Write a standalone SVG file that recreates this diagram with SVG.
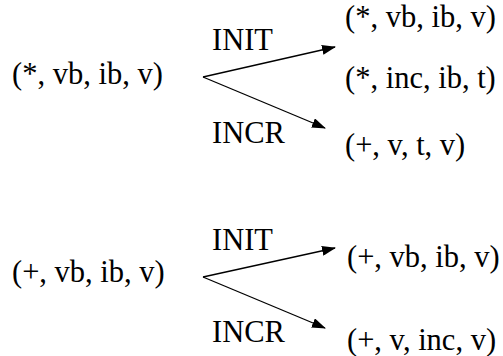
<svg xmlns="http://www.w3.org/2000/svg" width="503" height="356" viewBox="0 0 503 356">
<style>
.t{font-family:'Liberation Serif','Times New Roman',serif;font-size:30.5px;fill:#000}
.c{stroke:#000;stroke-width:1.3;fill:none}
</style>
<defs>
<marker id="ah" markerWidth="14" markerHeight="10" refX="13" refY="5" orient="auto" markerUnits="userSpaceOnUse">
<path d="M0,0 L14,5 L0,10 Z" fill="#000"/>
</marker>
</defs>
<rect width="503" height="356" fill="#fff"/>
<g id="n1"><text class="t" x="12" y="84">(*, vb, ib, v)</text></g>
<g id="n2"><text class="t" x="345" y="27">(*, vb, ib, v)</text></g>
<g id="n3"><text class="t" x="345" y="88">(*, inc, ib, t)</text></g>
<g id="n4"><text class="t" x="345" y="155">(+, v, t, v)</text></g>
<g id="n5"><text class="t" x="12" y="282">(+, vb, ib, v)</text></g>
<g id="n6"><text class="t" x="347" y="267">(+, vb, ib, v)</text></g>
<g id="n7"><text class="t" x="347" y="350">(+, v, inc, v)</text></g>
<g id="labels">
<text class="t" x="212" y="50">INIT</text>
<text class="t" x="212" y="143">INCR</text>
<text class="t" x="212" y="250">INIT</text>
<text class="t" x="212" y="342">INCR</text>
</g>
<g id="connectors">
<path class="c" d="M203,77 L335,47" marker-end="url(#ah)"/>
<path class="c" d="M203,77 L325,128" marker-end="url(#ah)"/>
<path class="c" d="M203,277 L335,248" marker-end="url(#ah)"/>
<path class="c" d="M203,277 L325,328" marker-end="url(#ah)"/>
</g>
</svg>
